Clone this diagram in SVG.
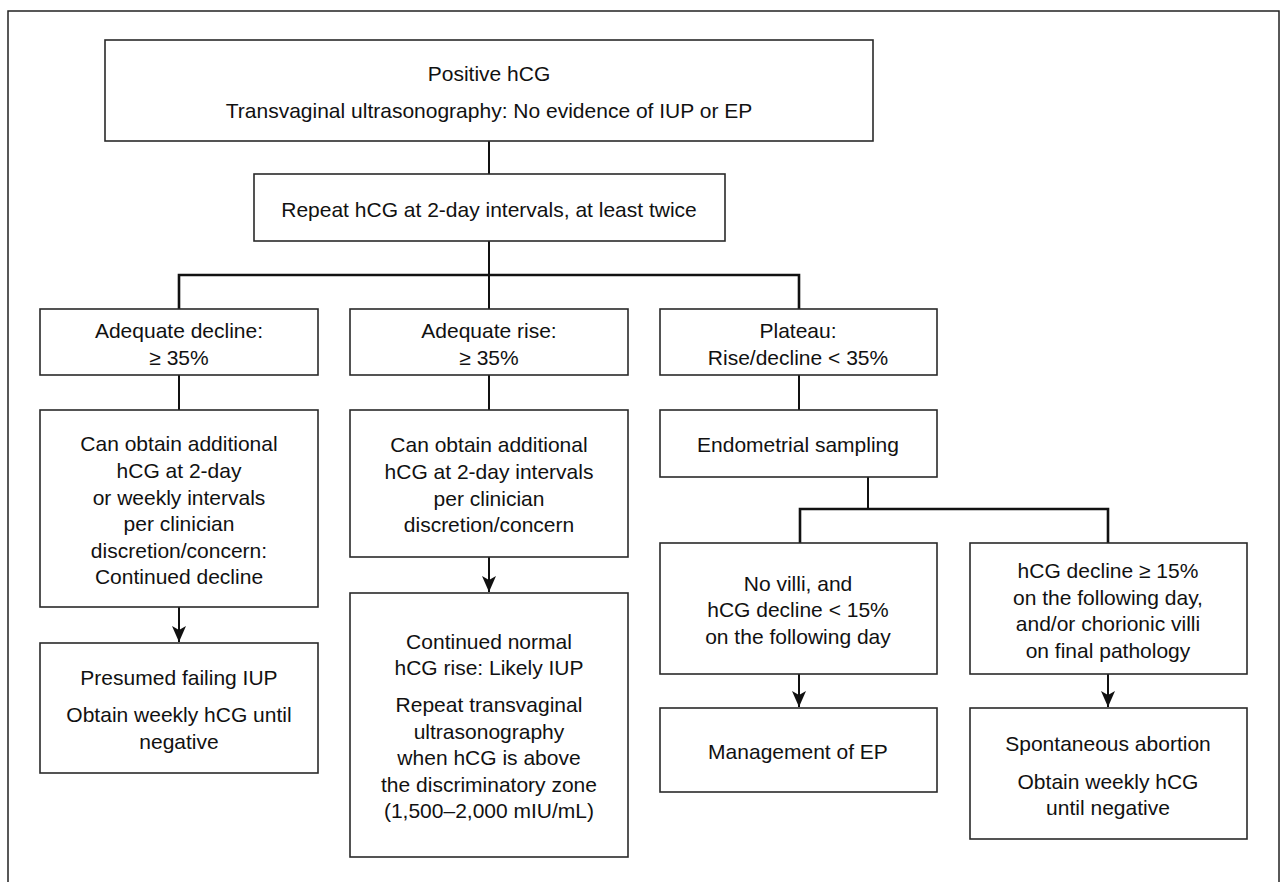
<svg xmlns="http://www.w3.org/2000/svg" width="1280" height="882" viewBox="0 0 1280 882">
<style>
.box{fill:#fff;stroke:#2a2a2a;stroke-width:1.6}
.t{font-family:"Liberation Sans",Arial,sans-serif;font-size:21px;fill:#111;text-anchor:middle;dominant-baseline:central}
.ln{stroke:#111;stroke-width:2;fill:none}
.bar{stroke:#111;stroke-width:2.6;fill:none}
</style>
<defs>
<marker id="ah" markerUnits="userSpaceOnUse" markerWidth="18" markerHeight="14" viewBox="0 0 18 14" refX="17" refY="7" orient="auto">
<path d="M1,0 L5,7 L1,14 L17,7 Z" fill="#111"/>
</marker>
</defs>
<rect x="8" y="11" width="1271" height="900" fill="none" stroke="#222" stroke-width="1.5"/>
<g id="connectors">
<line class="ln" x1="489" y1="141" x2="489" y2="174"/>
<line class="ln" x1="489" y1="241" x2="489" y2="275"/>
<polyline class="bar" points="179,309 179,275 799,275 799,309"/>
<line class="ln" x1="489" y1="275" x2="489" y2="309"/>
<line class="ln" x1="179" y1="375" x2="179" y2="410"/>
<line class="ln" x1="489" y1="375" x2="489" y2="410"/>
<line class="ln" x1="799" y1="375" x2="799" y2="410"/>
<line class="ln" x1="868" y1="477" x2="868" y2="509"/>
<polyline class="bar" points="800,543 800,509 1108,509 1108,543"/>
<line class="ln" x1="179" y1="607" x2="179" y2="642" marker-end="url(#ah)"/>
<line class="ln" x1="489" y1="557" x2="489" y2="592" marker-end="url(#ah)"/>
<line class="ln" x1="799" y1="674" x2="799" y2="707" marker-end="url(#ah)"/>
<line class="ln" x1="1108" y1="674" x2="1108" y2="707" marker-end="url(#ah)"/>
</g>
<g id="n-top"><rect class="box" x="105" y="40" width="768" height="101"/>
<text class="t" x="489" y="73">Positive hCG</text>
<text class="t" x="489" y="110">Transvaginal ultrasonography: No evidence of IUP or EP</text></g>
<g id="n-repeat"><rect class="box" x="254" y="174" width="471" height="67"/>
<text class="t" x="489" y="209">Repeat hCG at 2-day intervals, at least twice</text></g>
<g id="n-decline"><rect class="box" x="40" y="309" width="278" height="66"/>
<text class="t" x="179" y="330">Adequate decline:</text>
<text class="t" x="179" y="357">≥ 35%</text></g>
<g id="n-rise"><rect class="box" x="350" y="309" width="278" height="66"/>
<text class="t" x="489" y="330">Adequate rise:</text>
<text class="t" x="489" y="357">≥ 35%</text></g>
<g id="n-plateau"><rect class="box" x="660" y="309" width="277" height="66"/>
<text class="t" x="798" y="330">Plateau:</text>
<text class="t" x="798" y="357">Rise/decline &lt; 35%</text></g>
<g id="n-decline2"><rect class="box" x="40" y="410" width="278" height="197"/>
<text class="t" x="179" y="443">Can obtain additional</text>
<text class="t" x="179" y="470">hCG at 2-day</text>
<text class="t" x="179" y="497">or weekly intervals</text>
<text class="t" x="179" y="523">per clinician</text>
<text class="t" x="179" y="550">discretion/concern:</text>
<text class="t" x="179" y="576">Continued decline</text></g>
<g id="n-rise2"><rect class="box" x="350" y="410" width="278" height="147"/>
<text class="t" x="489" y="444">Can obtain additional</text>
<text class="t" x="489" y="471">hCG at 2-day intervals</text>
<text class="t" x="489" y="498">per clinician</text>
<text class="t" x="489" y="524">discretion/concern</text></g>
<g id="n-sampling"><rect class="box" x="660" y="410" width="277" height="67"/>
<text class="t" x="798" y="444">Endometrial sampling</text></g>
<g id="n-novilli"><rect class="box" x="660" y="543" width="277" height="131"/>
<text class="t" x="798" y="583">No villi, and</text>
<text class="t" x="798" y="609">hCG decline &lt; 15%</text>
<text class="t" x="798" y="636">on the following day</text></g>
<g id="n-villi"><rect class="box" x="970" y="543" width="277" height="131"/>
<text class="t" x="1108" y="570">hCG decline ≥ 15%</text>
<text class="t" x="1108" y="597">on the following day,</text>
<text class="t" x="1108" y="623">and/or chorionic villi</text>
<text class="t" x="1108" y="650">on final pathology</text></g>
<g id="n-failing"><rect class="box" x="40" y="643" width="278" height="130"/>
<text class="t" x="179" y="677">Presumed failing IUP</text>
<text class="t" x="179" y="714">Obtain weekly hCG until</text>
<text class="t" x="179" y="741">negative</text></g>
<g id="n-iup"><rect class="box" x="350" y="593" width="278" height="264"/>
<text class="t" x="489" y="641">Continued normal</text>
<text class="t" x="489" y="667">hCG rise: Likely IUP</text>
<text class="t" x="489" y="704">Repeat transvaginal</text>
<text class="t" x="489" y="731">ultrasonography</text>
<text class="t" x="489" y="757">when hCG is above</text>
<text class="t" x="489" y="784">the discriminatory zone</text>
<text class="t" x="489" y="810">(1,500–2,000 mIU/mL)</text></g>
<g id="n-ep"><rect class="box" x="660" y="708" width="277" height="84"/>
<text class="t" x="798" y="751">Management of EP</text></g>
<g id="n-abortion"><rect class="box" x="970" y="708" width="277" height="131"/>
<text class="t" x="1108" y="743">Spontaneous abortion</text>
<text class="t" x="1108" y="781">Obtain weekly hCG</text>
<text class="t" x="1108" y="807">until negative</text></g>
</svg>
